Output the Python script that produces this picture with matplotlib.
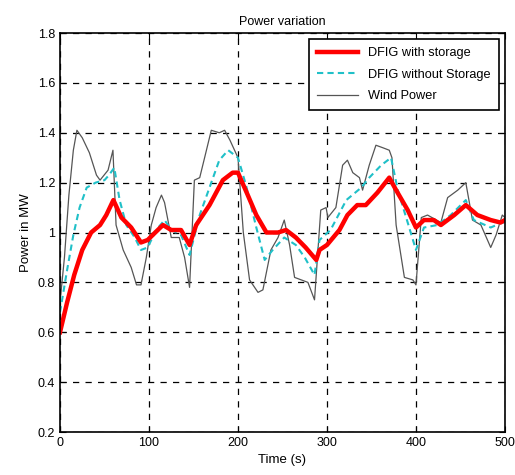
import matplotlib
matplotlib.use('Agg')
import matplotlib.pyplot as plt
from matplotlib.ticker import FuncFormatter

plt.rcParams['font.family'] = ['Liberation Sans', 'DejaVu Sans']

# Wind power (grey)
t_wind = [0, 5, 10, 15, 19, 25, 33, 41, 45, 54, 59.5, 63, 71, 80, 86, 91, 97, 102.6, 108, 114,
          117.5, 125, 134, 140, 145.6, 151, 157, 162.5, 170, 179, 185, 191, 200, 206, 213, 222.5,
          228, 237, 245, 252, 258, 263.6, 278.6, 286, 293, 299, 301, 310, 317.6, 323, 329, 336.5,
          340, 347.5, 355, 362.7, 370, 373, 377.7, 387, 396.5, 400, 406, 413, 428, 435.6, 447,
          456, 463.5, 473, 484, 490, 497, 500]
p_wind = [0.72, 0.90, 1.15, 1.33, 1.41, 1.38, 1.32, 1.23, 1.21, 1.25, 1.33, 1.03, 0.93, 0.86, 0.79,
          0.79, 0.90, 1.03, 1.10, 1.15, 1.12, 0.98, 0.98, 0.90, 0.78, 1.21, 1.22, 1.30, 1.41, 1.40,
          1.41, 1.37, 1.30, 1.00, 0.81, 0.76, 0.77, 0.93, 0.98, 1.05, 0.95, 0.82, 0.80, 0.73, 1.09,
          1.10, 1.06, 1.10, 1.27, 1.29, 1.24, 1.22, 1.17, 1.27, 1.35, 1.34, 1.33, 1.30, 1.03, 0.82,
          0.81, 0.79, 1.06, 1.07, 1.04, 1.14, 1.17, 1.20, 1.05, 1.03, 0.94, 0.99, 1.07, 1.06]

# DFIG with storage (red)
t_st = [0, 8, 16, 25, 35, 45, 52, 60, 69, 80, 91, 98.5, 107, 115.7, 125, 136, 145.6, 153, 168,
        183, 194, 200, 211, 220.6, 232, 245, 254, 265, 276, 288, 291.6, 300, 314, 323, 334,
        343.6, 356.7, 370, 377.7, 390.7, 400, 409, 420, 428, 443, 456, 469, 484, 495, 500]
p_st = [0.60, 0.72, 0.83, 0.93, 1.00, 1.03, 1.07, 1.13, 1.06, 1.02, 0.96, 0.97, 1.00, 1.03, 1.01,
        1.01, 0.95, 1.03, 1.11, 1.21, 1.24, 1.24, 1.15, 1.07, 1.00, 1.00, 1.01, 0.98, 0.94, 0.89,
        0.93, 0.95, 1.01, 1.07, 1.11, 1.11, 1.16, 1.22, 1.17, 1.09, 1.02, 1.05, 1.05, 1.03, 1.07,
        1.11, 1.07, 1.05, 1.04, 1.05]

# DFIG without storage (cyan)
t_nost = [0, 8, 15, 22, 30, 40, 50, 55, 61, 67, 74.5, 84, 91, 98.5, 108, 117.5, 125, 136, 145.6,
          157, 170, 179, 189, 200, 209, 220.6, 230, 239, 252, 265, 275, 286, 291.6, 304, 321.7,
          338.5, 347.5, 361, 372, 379.6, 390.7, 400, 409, 424, 439, 456, 465, 484, 497, 500]
p_nost = [0.68, 0.85, 0.99, 1.10, 1.18, 1.20, 1.21, 1.23, 1.26, 1.13, 1.03, 0.98, 0.93, 0.94, 1.01,
          1.05, 1.01, 0.99, 0.91, 1.07, 1.20, 1.29, 1.33, 1.30, 1.19, 1.02, 0.89, 0.93, 0.98, 0.95,
          0.90, 0.83, 0.97, 1.01, 1.13, 1.18, 1.22, 1.27, 1.30, 1.17, 1.04, 0.93, 1.02, 1.03, 1.07,
          1.13, 1.05, 1.02, 1.04, 1.04]

fig = plt.figure(figsize=(5.15, 4.75), dpi=100)
ax = fig.add_axes([0.1165, 0.0905, 0.864, 0.84])

l_wind, = ax.plot(t_wind, p_wind, color='#555555', lw=0.9, label='Wind Power')
l_nost, = ax.plot(t_nost, p_nost, color='#20c0c8', lw=1.5, ls=(0, (3, 2)), label='DFIG without Storage')
l_st, = ax.plot(t_st, p_st, color='red', lw=3.2, label='DFIG with storage')

ax.set_xlim(0, 500)
ax.set_ylim(0.2, 1.8)
ax.set_xticks([0, 100, 200, 300, 400, 500])
ax.set_yticks([0.2, 0.4, 0.6, 0.8, 1.0, 1.2, 1.4, 1.6, 1.8])
ax.yaxis.set_major_formatter(FuncFormatter(lambda v, p: '%g' % round(v, 1)))
ax.grid(True, color='black', ls=(0, (5, 5)), lw=0.9)
ax.tick_params(direction='in', top=True, right=True, labelsize=9, length=4)
for s in ax.spines.values():
    s.set_linewidth(1.2)

ax.set_title('Power variation', fontsize=9)
ax.set_xlabel('Time (s)', fontsize=9.5)
ax.set_ylabel('Power in MW', fontsize=9.5)

leg = ax.legend(handles=[l_st, l_nost, l_wind], loc='upper right', fontsize=9.2,
                fancybox=False, edgecolor='black', framealpha=1, borderaxespad=0.5,
                handlelength=3.2, labelspacing=0.75, borderpad=0.6)
leg.get_frame().set_linewidth(1.2)

fig.savefig('out.png', dpi=100)
